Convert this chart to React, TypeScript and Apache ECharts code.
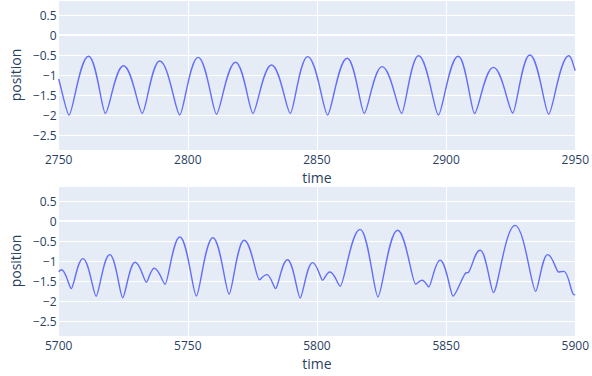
import React, { useEffect, useRef } from 'react';
import * as echarts from 'echarts';

// Top panel (time 2750–2950): turning points
const topTime = [2750, 2754.0, 2761.6, 2768.1, 2775.1, 2782.4, 2789.1, 2796.9, 2804.0, 2811.1, 2818.5, 2825.2, 2832.4, 2839.7, 2846.4, 2854.1, 2861.7, 2868.3, 2875.2, 2882.8, 2889.3, 2897.0, 2904.7, 2911.0, 2918.3, 2925.8, 2932.4, 2939.7, 2947.5, 2950];
const topPosition = [-1.1, -2.0, -0.53, -1.96, -0.77, -1.96, -0.65, -2.0, -0.56, -1.98, -0.68, -1.96, -0.75, -1.96, -0.54, -2.0, -0.58, -1.96, -0.79, -1.96, -0.52, -2.0, -0.53, -1.96, -0.81, -1.95, -0.5, -1.98, -0.52, -0.89];

// Bottom panel (time 5700–5900)
const bottomTime = [5700, 5701.1, 5704.9, 5709.4, 5714.5, 5719.8, 5724.8, 5729.6, 5734.0, 5737.0, 5741.2, 5746.9, 5753.3, 5759.7, 5766.0, 5771.8, 5777.7, 5780.6, 5784.0, 5788.6, 5793.5, 5798.3, 5802.2, 5805.0, 5809.0, 5816.7, 5823.6, 5831.2, 5838.2, 5840.7, 5843.3, 5847.7, 5852.7, 5857.3, 5858.8, 5863.2, 5868.3, 5876.7, 5884.7, 5889.3, 5893.5, 5895.6, 5899.1, 5900];
const bottomPosition = [-1.27, -1.22, -1.69, -0.94, -1.88, -0.84, -1.92, -1.03, -1.53, -1.18, -1.58, -0.4, -1.875, -0.42, -1.83, -0.48, -1.47, -1.34, -1.69, -0.97, -1.925, -1.04, -1.48, -1.275, -1.63, -0.21, -1.9, -0.23, -1.58, -1.48, -1.65, -0.98, -1.88, -1.32, -1.27, -0.73, -1.79, -0.11, -1.76, -0.84, -1.275, -1.26, -1.82, -1.85];

const topRange = [2750, 2950];
const bottomRange = [5700, 5900];
const posRange = [-2.875, 0.875];
const xTitle = 'time';
const yTitle = 'position';

const FONT = '"Open Sans", verdana, arial, sans-serif';
const TEXT = '#2a3f5f';
const LINE = '#636efa';

// Curve drawing style: handle lengths (fraction of segment width) at maxima, minima, others
const K_MAX = 0.45;
const K_MIN = 0.2;
const K_MID = 0.33;

function buildPath(pts: number[][], vals: number[]): string {
  const n = pts.length;
  const slope: number[] = [];
  const k: number[] = [];
  for (let i = 0; i < n; i++) {
    if (i === 0 || i === n - 1) {
      const j = i === 0 ? 1 : n - 2;
      const a = i === 0 ? pts[0] : pts[j];
      const b = i === 0 ? pts[j] : pts[n - 1];
      slope.push((b[1] - a[1]) / (b[0] - a[0]));
      k.push(K_MID);
    } else if (vals[i] > vals[i - 1] && vals[i] > vals[i + 1]) {
      slope.push(0); k.push(K_MAX);
    } else if (vals[i] < vals[i - 1] && vals[i] < vals[i + 1]) {
      slope.push(0); k.push(K_MIN);
    } else {
      slope.push((pts[i + 1][1] - pts[i - 1][1]) / (pts[i + 1][0] - pts[i - 1][0]));
      k.push(K_MID);
    }
  }
  let d = `M${pts[0][0]},${pts[0][1]}`;
  for (let i = 0; i < n - 1; i++) {
    const dx = pts[i + 1][0] - pts[i][0];
    const c1x = pts[i][0] + k[i] * dx;
    const c1y = pts[i][1] + slope[i] * k[i] * dx;
    const c2x = pts[i + 1][0] - k[i + 1] * dx;
    const c2y = pts[i + 1][1] - slope[i + 1] * k[i + 1] * dx;
    d += `C${c1x},${c1y},${c2x},${c2y},${pts[i + 1][0]},${pts[i + 1][1]}`;
  }
  return d;
}

export default function App() {
  const ref = useRef<HTMLDivElement>(null);
  useEffect(() => {
    document.body.style.margin = '0';
    const chart = echarts.init(ref.current!, null, { renderer: 'svg' });
    const gridTops = [0, 186];
    const ranges = [topRange, bottomRange];
    const times = [topTime, bottomTime];
    const values = [topPosition, bottomPosition];
    chart.setOption({
      animation: false,
      textStyle: { fontFamily: FONT },
      grid: gridTops.map((top) => ({
        left: 50, top, width: 528, height: 150, show: true,
        backgroundColor: '#E5ECF6', borderWidth: 0, containLabel: false,
      })),
      xAxis: ranges.map((r, i) => ({
        gridIndex: i, type: 'value', min: r[0], max: r[1], interval: 50,
        name: xTitle, nameLocation: 'middle', nameGap: 20,
        nameTextStyle: { fontSize: 14, color: TEXT, fontFamily: FONT },
        axisLine: { show: false }, axisTick: { show: false },
        axisLabel: {
          margin: 3, fontSize: 12, color: TEXT, fontFamily: FONT,
          formatter: (v: number) => String(v),
        },
        splitLine: { show: true, lineStyle: { color: '#ffffff', width: 1 } },
      })),
      yAxis: ranges.map((_, i) => ({
        gridIndex: i, type: 'value', min: posRange[0], max: posRange[1], splitNumber: 8,
        name: yTitle, nameLocation: 'middle', nameGap: 35, nameRotate: 90,
        nameTextStyle: { fontSize: 14, color: TEXT, fontFamily: FONT },
        axisLine: { show: false }, axisTick: { show: false },
        axisLabel: {
          margin: 2, fontSize: 12, color: TEXT, fontFamily: FONT,
          showMinLabel: false, showMaxLabel: false,
          formatter: (v: number) => String(v).replace('-', '\u2212'),
        },
        splitLine: { show: true, lineStyle: { color: '#ffffff', width: 1 } },
      })),
      series: ranges.flatMap((_, i) => {
        const data = times[i].map((t, j) => [t, values[i][j]]);
        return [
          {
            type: 'line', xAxisIndex: i, yAxisIndex: i, data: [],
            markLine: {
              silent: true, symbol: 'none', label: { show: false },
              lineStyle: { color: '#ffffff', width: 2, type: 'solid' },
              data: [{ yAxis: 0 }],
            },
          },
          {
            type: 'custom', xAxisIndex: i, yAxisIndex: i, data,
            encode: { x: 0, y: 1 }, clip: true, silent: true,
            renderItem: (params: any, api: any) => {
              if (params.dataIndex !== 0) return null;
              const pts = data.map((p) => api.coord(p));
              return {
                type: 'path',
                shape: { pathData: buildPath(pts, values[i]) },
                style: { fill: 'none', stroke: LINE, lineWidth: 1.4 },
              };
            },
          },
        ];
      }),
    });
    return () => chart.dispose();
  }, []);
  return <div ref={ref} style={{ width: 592, height: 376 }} />;
}
